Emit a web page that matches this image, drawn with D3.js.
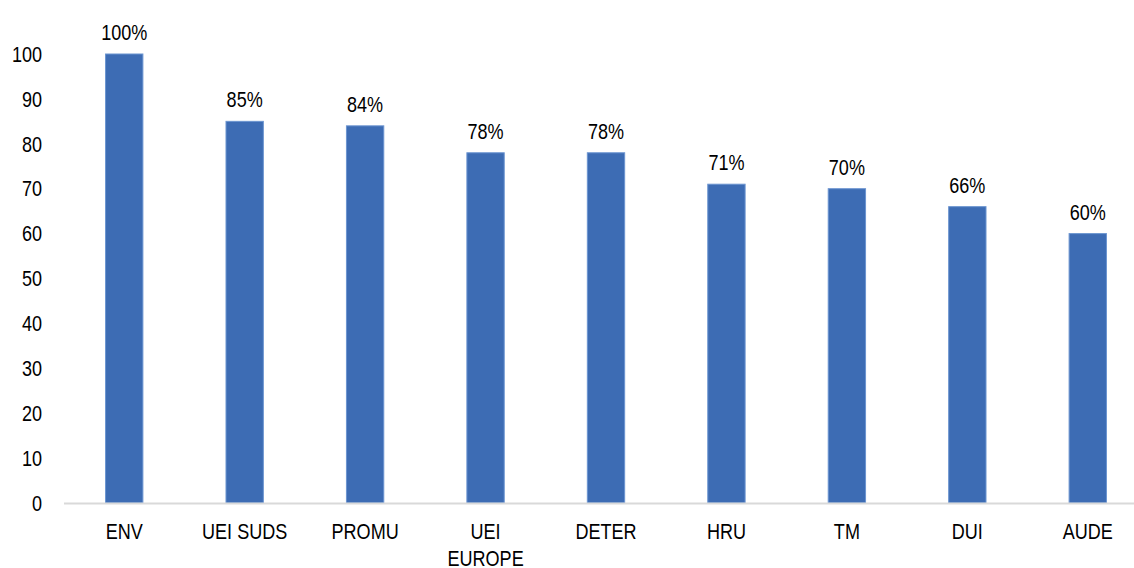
<!DOCTYPE html>
<html>
<head>
<meta charset="utf-8">
<script src="https://cdn.jsdelivr.net/npm/d3@7"></script>
<style>
  body { margin: 0; background: #fff; }
  text { font-family: "Liberation Sans", Arial, sans-serif; fill: #000; font-size: 21.5px; }
</style>
</head>
<body>
<div id="chart"></div>
<script>
const width = 1134;
const height = 568;

const categories = ["ENV", "UEI SUDS", "PROMU", "UEI EUROPE", "DETER", "HRU", "TM", "DUI", "AUDE"];
const values = [100, 85, 84, 78, 78, 71, 70, 66, 60];
const yTicks = [0, 10, 20, 30, 40, 50, 60, 70, 80, 90, 100];

// the original font is a narrow sans, squeeze Liberation Sans to match
const narrow = 0.84;

const svg = d3.select("#chart")
  .append("svg")
  .attr("width", width)
  .attr("height", height);

const x = d3.scaleBand()
  .domain(categories)
  .range([64, 1148])
  .paddingInner(0.69)
  .paddingOuter(0.345);

const y = d3.scaleLinear()
  .domain([0, 100])
  .range([503, 54]);

const cx = d => x(d) + x.bandwidth() / 2;

// y axis labels, no line
svg.append("g")
  .selectAll("text")
  .data(yTicks)
  .enter().append("text")
  .attr("transform", d => `translate(42,${y(d)}) scale(${narrow},1)`)
  .attr("dy", "0.36em")
  .attr("text-anchor", "end")
  .text(d => d);

// bars
svg.append("g")
  .selectAll("rect")
  .data(values)
  .enter().append("rect")
  .attr("x", (d, i) => x(categories[i]))
  .attr("y", d => y(d))
  .attr("width", x.bandwidth())
  .attr("height", d => y(0) - y(d))
  .attr("fill", "#3d6cb4")
  .attr("stroke", "#6b94d0")
  .attr("stroke-width", 1);

// baseline
svg.append("line")
  .attr("x1", 64)
  .attr("x2", width)
  .attr("y1", y(0) + 0.5)
  .attr("y2", y(0) + 0.5)
  .attr("stroke", "#d9d9d9")
  .attr("stroke-width", 2);

// value labels
svg.append("g")
  .selectAll("text")
  .data(values)
  .enter().append("text")
  .attr("transform", (d, i) => `translate(${cx(categories[i])},${y(d) - 14}) scale(${narrow},1)`)
  .attr("text-anchor", "middle")
  .text(d => d + "%");

// category labels (wrap UEI EUROPE)
const cat = svg.append("g")
  .selectAll("text")
  .data(categories)
  .enter().append("text")
  .attr("transform", d => `translate(${cx(d)},539) scale(${narrow},1)`)
  .attr("text-anchor", "middle");

cat.each(function (d) {
  const lines = d === "UEI EUROPE" ? ["UEI", "EUROPE"] : [d];
  const t = d3.select(this);
  lines.forEach((l, i) => {
    t.append("tspan")
      .attr("x", 0)
      .attr("dy", i === 0 ? 0 : 27)
      .text(l);
  });
});
</script>
</body>
</html>
